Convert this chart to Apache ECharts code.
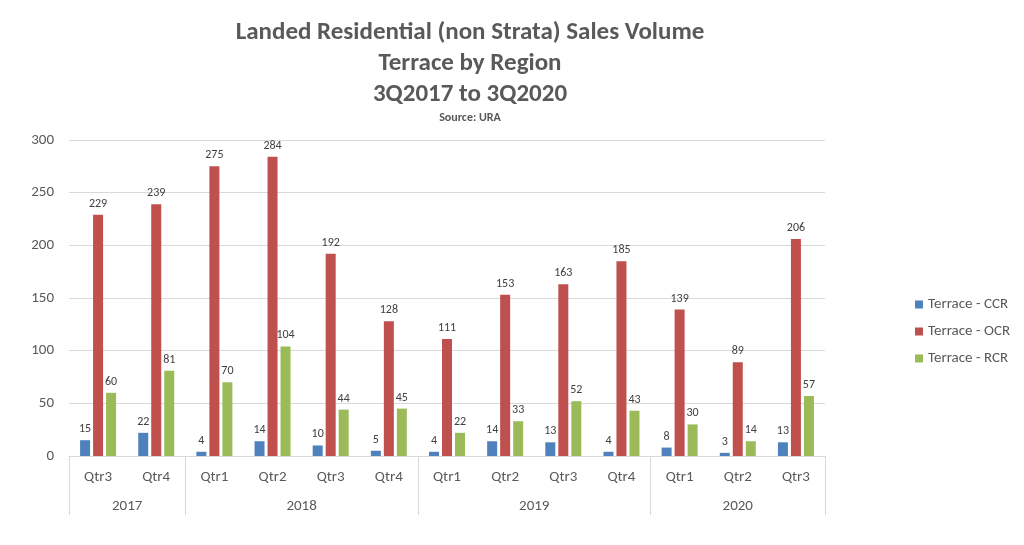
<!DOCTYPE html>
<html><head><meta charset="utf-8">
<script src="https://cdn.jsdelivr.net/npm/echarts@6/dist/echarts.min.js"></script>
<style>html,body{margin:0;padding:0;background:#fff}#c{width:1024px;height:545px}</style>
</head><body><div id="c"></div>
<script>
const quarters = ['Qtr3','Qtr4','Qtr1','Qtr2','Qtr3','Qtr4','Qtr1','Qtr2','Qtr3','Qtr4','Qtr1','Qtr2','Qtr3'];
const years = ['2017','2018','2019','2020'];
const yearCounts = [2,4,4,3];
const ccr = [15,22,4,14,10,5,4,14,13,4,8,3,13];
const ocr = [229,239,275,284,192,128,111,153,163,185,139,89,206];
const rcr = [60,81,70,104,44,45,22,33,52,43,30,14,57];
const seriesNames = ['Terrace - CCR','Terrace - OCR','Terrace - RCR'];
const yTicks = [0,50,100,150,200,250,300];

const FONT = "Carlito, 'Liberation Sans Narrow', 'DejaVu Sans Condensed', 'Open Sans', sans-serif";
const bounds = [0]; const centers = [];
yearCounts.forEach(c => { const s = bounds[bounds.length-1]; centers.push(s + c/2); bounds.push(s + c); });
const yearAt = v => { const i = centers.indexOf(v); return i >= 0 ? years[i] : ''; };

const chart = echarts.init(document.getElementById('c'));
const mk = (name, data, color) => ({
  name, type: 'bar', data, xAxisIndex: 0, barWidth: 10, barGap: '30%',
  itemStyle: { color },
  label: { show: true, position: 'top', color: '#404040', fontSize: 12, fontFamily: FONT, distance: 5 }
});
chart.setOption({
  animation: false,
  textStyle: { fontFamily: FONT },
  title: [
    { text: 'Landed Residential (non Strata) Sales Volume\nTerrace by Region\n3Q2017 to 3Q2020', left: 465, textAlign: 'center', top: 12,
      textStyle: { fontFamily: FONT, fontWeight: 'bold', fontSize: 25, color: '#595959', lineHeight: 31 } },
    { text: 'Source: URA', left: 465, textAlign: 'center', top: 107,
      textStyle: { fontFamily: FONT, fontWeight: 'bold', fontSize: 12, color: '#595959' } }
  ],
  legend: {
    orient: 'vertical', left: 910, top: 292, itemWidth: 8, itemHeight: 8, itemGap: 12, icon: 'rect',
    textStyle: { fontFamily: FONT, fontSize: 15, color: '#595959' },
    data: seriesNames
  },
  grid: { left: 69, right: 199, top: 140, bottom: 89, containLabel: false },
  xAxis: [
    { type: 'category', data: quarters, position: 'bottom', offset: 0,
      axisLine: { lineStyle: { color: '#d9d9d9', width: 1 } }, axisTick: { show: false },
      axisLabel: { color: '#595959', fontSize: 15, margin: 14, fontFamily: FONT } },
    { type: 'value', min: 0, max: 13, position: 'bottom', offset: 0,
      axisLine: { show: false }, splitLine: { show: false },
      axisTick: { show: true, customValues: bounds, length: 59, lineStyle: { color: '#d9d9d9' } },
      axisLabel: { customValues: centers, formatter: yearAt, color: '#595959', fontSize: 15, margin: 43, fontFamily: FONT } }
  ],
  yAxis: { type: 'value', min: 0, max: 300, interval: 50,
    axisLine: { show: false }, axisTick: { show: false },
    splitLine: { lineStyle: { color: '#d9d9d9' } },
    axisLabel: { color: '#595959', fontSize: 15, margin: 15, fontFamily: FONT } },
  series: [ mk(seriesNames[0], ccr, '#4F81BD'), mk(seriesNames[1], ocr, '#C0504D'), mk(seriesNames[2], rcr, '#9BBB59') ]
});
</script></body></html>
